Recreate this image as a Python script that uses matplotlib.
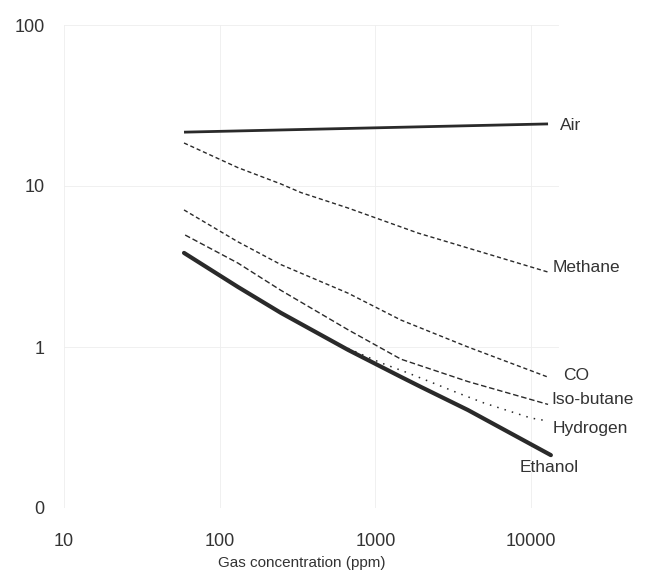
import matplotlib.pyplot as plt
from matplotlib.ticker import FixedLocator, NullLocator

plt.rcParams['font.family'] = ['Liberation Sans', 'DejaVu Sans']

# values (Rs/Ro vs ppm)
air_x = [59, 12850]
air_y = [21.6, 24.3]

methane_x = [59, 131, 247, 333, 667, 1880, 3060, 12850]
methane_y = [18.5, 13.0, 10.3, 9.1, 7.3, 5.1, 4.43, 2.92]

co_x = [59, 131, 247, 667, 1460, 3930, 12850]
co_y = [7.1, 4.5, 3.25, 2.16, 1.47, 1.0, 0.65]

isobutane_x = [60, 131, 247, 667, 1460, 3930, 12850]
isobutane_y = [4.96, 3.32, 2.25, 1.28, 0.84, 0.61, 0.44]

hydrogen_x = [667, 1090, 1620, 3390, 4980, 9980, 12850]
hydrogen_y = [0.98, 0.796, 0.69, 0.518, 0.449, 0.362, 0.347]

ethanol_x = [59, 131, 247, 667, 1460, 1960, 3930, 13400]
ethanol_y = [3.84, 2.36, 1.63, 0.96, 0.652, 0.565, 0.406, 0.213]

x_ticks = [10, 100, 1000, 10000]
x_tick_labels = ['10', '100', '1000', '10000']
y_ticks = [0.1, 1, 10, 100]
y_tick_labels = ['0', '1', '10', '100']

fig = plt.figure(figsize=(6.64, 5.75), dpi=100)
ax = fig.add_axes([64 / 664, 1 - 508 / 575, 494.5 / 664, 483 / 575])
ax.set_xscale('log')
ax.set_yscale('log')
ax.set_xlim(10, 15000)
ax.set_ylim(0.1, 100)

ink = '#2a2a2a'
ax.plot(air_x, air_y, color=ink, lw=2.0, solid_capstyle='butt')
ax.plot(methane_x, methane_y, color=ink, lw=1.0, ls=(0, (3, 2)))
ax.plot(co_x, co_y, color=ink, lw=1.0, ls=(0, (3, 2)))
ax.plot(isobutane_x, isobutane_y, color=ink, lw=1.0, ls=(0, (4, 2)))
ax.plot(hydrogen_x, hydrogen_y, color=ink, lw=1.1, ls=(0, (1, 4)))
ax.plot(ethanol_x, ethanol_y, color=ink, lw=3.0, solid_capstyle='round')

labels = [('Air', 560, 125), ('Methane', 553, 268), ('CO', 563, 376),
          ('Iso-butane', 551, 400), ('Hydrogen', 553, 428), ('Ethanol', 520, 468)]
for name, px, py in labels:
    fig.text(px / 664, 1 - py / 575, name, ha='left', va='center',
             fontsize=12.5, color='#333333')

for s in ax.spines.values():
    s.set_visible(False)
ax.xaxis.set_major_locator(FixedLocator(x_ticks))
ax.xaxis.set_minor_locator(NullLocator())
ax.set_xticklabels(x_tick_labels)
ax.yaxis.set_major_locator(FixedLocator(y_ticks))
ax.yaxis.set_minor_locator(NullLocator())
ax.set_yticklabels(y_tick_labels)
ax.tick_params(axis='y', length=0, pad=14, labelsize=13, labelcolor='#333333')
ax.tick_params(axis='x', length=0, pad=18, labelsize=13, labelcolor='#333333')
ax.grid(True, which='major', color='#eeeeee', lw=0.6)

fig.text(302 / 664, 1 - 563 / 575, 'Gas concentration (ppm)', ha='center',
         va='center', fontsize=11, color='#333333')

fig.savefig('out.png', dpi=100)
